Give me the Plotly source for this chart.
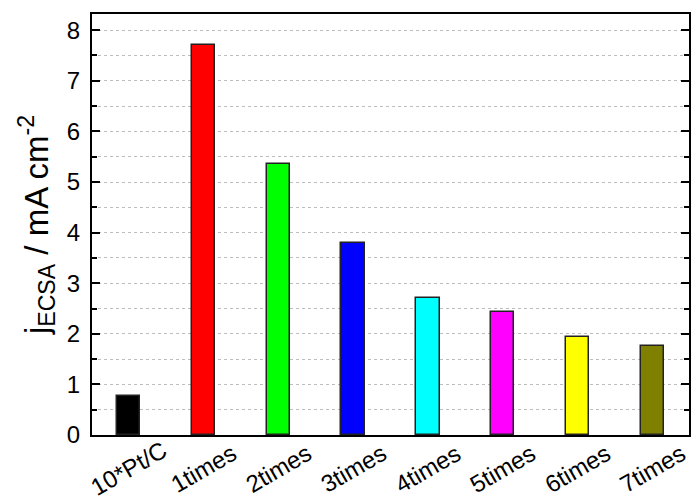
import plotly.graph_objects as go

# Current density normalised to ECSA for each sample
categories = ["10*Pt/C", "1times", "2times", "3times", "4times", "5times", "6times", "7times"]
j_ecsa = [0.77, 7.70, 5.35, 3.80, 2.70, 2.44, 1.94, 1.76]
bar_colors = ["#000000", "#ff0000", "#00ff00", "#0000ff", "#00ffff", "#ff00ff", "#ffff00", "#808000"]
y_ticks = [0, 1, 2, 3, 4, 5, 6, 7, 8]

FONT = "Liberation Sans"

fig = go.Figure(
    go.Bar(
        x=categories,
        y=j_ecsa,
        width=0.31,
        marker=dict(color=bar_colors, line=dict(color="#222222", width=1.5)),
        showlegend=False,
    )
)

# Category labels, rotated about their centres below the axis
for cat in categories:
    fig.add_annotation(
        x=cat, xref="x", y=0, yref="paper",
        text=cat, showarrow=False, textangle=-30,
        yshift=-33, yanchor="middle", xanchor="center",
        font=dict(family=FONT, size=24, color="black"),
    )

fig.update_layout(
    width=694, height=500,
    margin=dict(l=92, r=3, t=14, b=65),
    paper_bgcolor="white",
    plot_bgcolor="white",
    bargap=0,
    font=dict(family=FONT, color="black"),
)

fig.update_xaxes(
    type="category",
    range=[-0.487, 7.487],
    showticklabels=False,
    ticks="",
    showgrid=False,
    showline=True, linecolor="black", linewidth=2, mirror=True,
    zeroline=False,
)

fig.update_yaxes(
    range=[0, 8.32],
    tickvals=y_ticks,
    ticktext=[str(v) for v in y_ticks],
    ticks="inside", ticklen=8, tickwidth=2, tickcolor="black",
    tickfont=dict(family=FONT, size=24, color="black"),
    ticklabelstandoff=5,
    showline=True, linecolor="black", linewidth=2, mirror="ticks",
    showgrid=True, gridcolor="#bdbdbd", gridwidth=1, griddash="dot",
    zeroline=False,
    minor=dict(dtick=0.5, tick0=0, ticks="inside", ticklen=5, tickwidth=2,
               tickcolor="black", showgrid=True, gridcolor="#bdbdbd",
               gridwidth=1, griddash="dot"),
    title=dict(
        text="j<sub>ECSA</sub> / mA cm<sup>-2</sup>",
        font=dict(family=FONT, size=33, color="black"),
        standoff=8,
    ),
)

fig.write_html("out.html")
